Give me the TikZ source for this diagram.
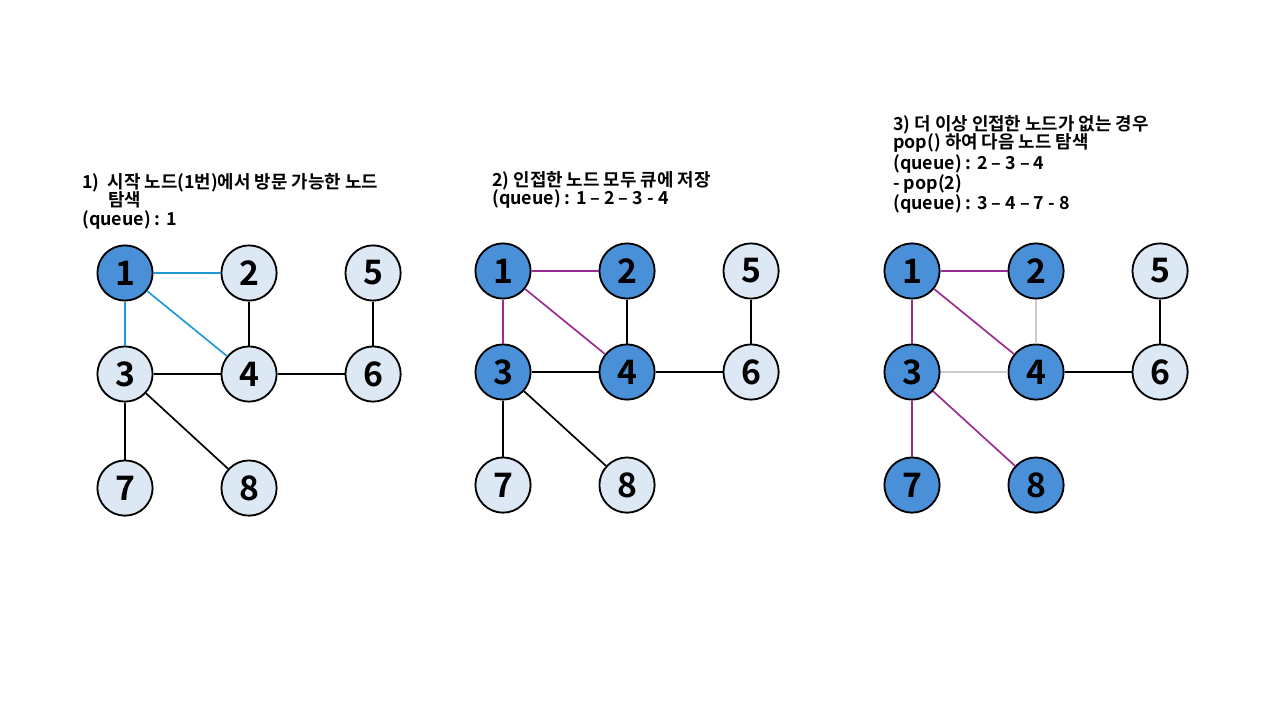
\documentclass[tikz,border=0pt]{standalone}
\usepackage{fontspec}
\setmainfont{Noto Sans CJK KR}[BoldFont={Noto Sans CJK KR Bold}]
\usetikzlibrary{positioning}
\definecolor{VisitBlue}{HTML}{4A90D9}
\definecolor{SoftBlue}{HTML}{DDE8F5}
\definecolor{EdgeCyan}{HTML}{1F9AD6}
\definecolor{EdgePurple}{HTML}{9A2B8F}
\definecolor{EdgeGrey}{HTML}{CCCCCC}
\tikzset{
  % Base vertex
  VX/.style={circle,draw=black,line width=1.3pt,
             minimum size=1.38cm,inner sep=0pt,
             font=\fontsize{24}{24}\selectfont\bfseries},
  % Vertex variants
  vL/.style={VX,fill=SoftBlue},
  vD/.style={VX,fill=VisitBlue},
  % Edge variants
  eK/.style={line width=1.2pt,draw=black},
  eC/.style={line width=1.2pt,draw=EdgeCyan},
  eP/.style={line width=1.2pt,draw=EdgePurple},
  eG/.style={line width=1.2pt,draw=EdgeGrey},
  % Caption text
  TX/.style={anchor=north west,align=left,inner sep=0pt,
             font=\fontsize{12.7}{13.3}\selectfont\bfseries}
}

\begin{document}
\begin{tikzpicture}[x=0.025cm,y=-0.025cm,node distance=3.1cm,on grid]
  \useasboundingbox (0,0) rectangle (1280,720);

  % --- 1) start node ---
  \node[TX] (t1) at (82,173) {1)~~시작 노드(1번)에서 방문 가능한 노드\\
    \hspace*{1.45em}탐색\\(queue) : 1};
  \node[vD] (a1) at (125,273) {1};
  \node[vL,right=of a1]        (a2) {2};
  \node[vL,right=of a2]        (a5) {5};
  \node[vL,below=2.525cm of a1] (a3) {3};
  \node[vL,right=of a3]        (a4) {4};
  \node[vL,right=of a4]        (a6) {6};
  \node[vL,below=2.85cm of a3] (a7) {7};
  \node[vL,right=of a7]        (a8) {8};
  \draw[eC](a1)--(a2);
  \draw[eC](a1)--(a3);
  \draw[eC](a1)--(a4);
  \draw[eK](a2)--(a4);
  \draw[eK](a3)--(a4);
  \draw[eK](a4)--(a6);
  \draw[eK](a5)--(a6);
  \draw[eK](a3)--(a7);
  \draw[eK](a3)--(a8);

  % --- 2) enqueue neighbours ---
  \node[TX] (t2) at (492,171) {2) 인접한 노드 모두 큐에 저장\\(queue) : 1 -- 2 -- 3 - 4};
  \node[vD] (b1) at (503,271) {1};
  \node[vD,right=of b1]        (b2) {2};
  \node[vL,right=of b2]        (b5) {5};
  \node[vD,below=2.525cm of b1] (b3) {3};
  \node[vD,right=of b3]        (b4) {4};
  \node[vL,right=of b4]        (b6) {6};
  \node[vL,below=2.825cm of b3] (b7) {7};
  \node[vL,right=of b7]        (b8) {8};
  \draw[eP](b1)--(b2);
  \draw[eP](b1)--(b3);
  \draw[eP](b1)--(b4);
  \draw[eK](b2)--(b4);
  \draw[eK](b3)--(b4);
  \draw[eK](b4)--(b6);
  \draw[eK](b5)--(b6);
  \draw[eK](b3)--(b7);
  \draw[eK](b3)--(b8);

  % --- 3) pop and go on ---
  \node[TX] (t3) at (893,115) {3) 더 이상 인접한 노드가 없는 경우\\pop() 하여 다음 노드 탐색\\
    (queue) : 2 -- 3 -- 4\\- pop(2)\\(queue) : 3 -- 4 -- 7 - 8};
  \node[vD] (c1) at (912,271) {1};
  \node[vD,right=of c1]        (c2) {2};
  \node[vL,right=of c2]        (c5) {5};
  \node[vD,below=2.525cm of c1] (c3) {3};
  \node[vD,right=of c3]        (c4) {4};
  \node[vL,right=of c4]        (c6) {6};
  \node[vD,below=2.825cm of c3] (c7) {7};
  \node[vD,right=of c7]        (c8) {8};
  \draw[eP](c1)--(c2);
  \draw[eP](c1)--(c3);
  \draw[eP](c1)--(c4);
  \draw[eG](c2)--(c4);
  \draw[eG](c3)--(c4);
  \draw[eK](c4)--(c6);
  \draw[eK](c5)--(c6);
  \draw[eP](c3)--(c7);
  \draw[eP](c3)--(c8);
\end{tikzpicture}
\end{document}
